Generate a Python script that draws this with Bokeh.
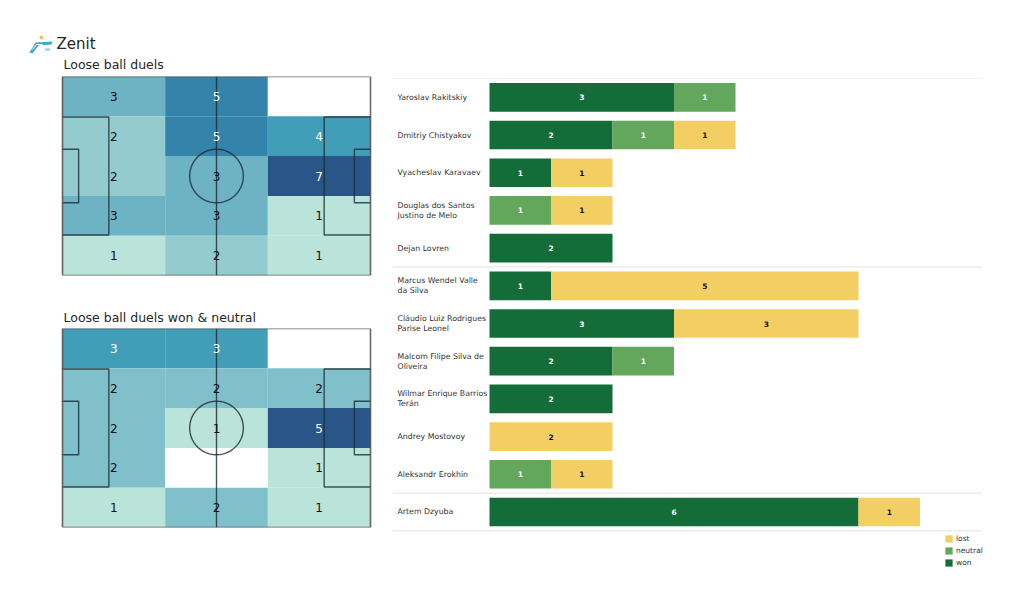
from bokeh.plotting import figure
from bokeh.layouts import column, row
from bokeh.core.properties import value
from bokeh.models import ColumnDataSource, FactorRange, Range1d, Legend, LegendItem
from bokeh.embed import file_html
from bokeh.resources import INLINE
import numpy as np

# ---- data ----
team = "Zenit"
title_all = "Loose ball duels"
title_won = "Loose ball duels won & neutral"
grid_all = [[3, 5, 0], [2, 5, 4], [2, 3, 7], [3, 3, 1], [1, 2, 1]]
grid_won = [[3, 3, 0], [2, 2, 2], [2, 1, 5], [2, 0, 1], [1, 2, 1]]
players = ["Yaroslav Rakitskiy", "Dmitriy Chistyakov", "Vyacheslav Karavaev",
           "Douglas dos Santos\nJustino de Melo", "Dejan Lovren",
           "Marcus Wendel Valle\nda Silva", "Cláudio Luiz Rodrigues\nParise Leonel",
           "Malcom Filipe Silva de\nOliveira", "Wilmar Enrique Barrios\nTerán",
           "Andrey Mostovoy", "Aleksandr Erokhin", "Artem Dzyuba"]
won = [3, 2, 1, 0, 2, 1, 3, 2, 2, 0, 0, 6]
neutral = [1, 1, 0, 1, 0, 0, 0, 1, 0, 0, 1, 0]
lost = [0, 1, 1, 1, 0, 5, 3, 0, 0, 2, 1, 1]
group_ends = [0, 5, 11, 12]

# ---- styles ----
FONT = value("DejaVu Sans")
INK = "#262626"
colors_all = {0: "#ffffff", 1: "#bae3d9", 2: "#93cbce", 3: "#6db3c3", 4: "#429db9", 5: "#3383ab", 7: "#2a5587"}
colors_won = {0: "#ffffff", 1: "#bae3d9", 2: "#7fc0cb", 3: "#429db9", 5: "#2a5587"}
STATUS = {"won": "#146c38", "neutral": "#62a75b", "lost": "#f2ce63"}
PW, PH = 105.0, 68.0
BOX = 15.8
K = PW / 308.0  # pitch metres per pixel


def bare(fig):
    fig.axis.visible = False
    fig.grid.visible = False
    fig.outline_line_color = None
    fig.background_fill_color = None
    fig.border_fill_color = None
    return fig


def caption(y0, y1, items, logo=False):
    f = bare(figure(width=385, height=y1 - y0, x_range=Range1d(0, 385), y_range=Range1d(y1, y0),
                    toolbar_location=None, output_backend="svg", min_border=0,
                    min_border_left=0, min_border_right=0, min_border_top=0, min_border_bottom=0))
    for x, y, txt, size in items:
        f.text([x], [y], text=[txt], text_font=FONT, text_font_size=size, text_color=INK,
               text_baseline="middle", text_align="left")
    if logo:
        f.patch([29, 35, 52, 51, 38, 32], [52, 42, 41, 44, 45, 53], fill_color="#3fa7cb", line_color=None)
        f.line([32, 36, 42, 37, 47], [49, 44, 44, 48, 45], line_color="#ffffff", line_width=1)
        f.patch([44, 50, 49, 45], [48, 48, 50, 50], fill_color="#8fcbe0", line_color=None)
        f.scatter([41], [37], size=4, fill_color="#e9c46a", line_color=None)
    return f


def pitch(values, palette, top, bottom):
    rows, cols = len(values), len(values[0])
    f = bare(figure(width=385, height=top + 199 + bottom, x_range=Range1d(-62 * K, PW + 15 * K),
                    y_range=Range1d(0, PH), toolbar_location=None, output_backend="svg",
                    min_border_left=0, min_border_right=0, min_border_top=top, min_border_bottom=bottom))
    cw, ch = PW / cols, PH / rows
    xs, ys, fills, inks, txt = [], [], [], [], []
    hi = max(map(max, values))
    for r, line in enumerate(values):
        for c, v in enumerate(line):
            xs.append((c + .5) * cw)
            ys.append(PH - (r + .5) * ch)
            fills.append(palette[v])
            inks.append("#ffffff" if v >= 0.55 * hi else "#111111")
            txt.append(str(v) if v else "")
    src = ColumnDataSource(dict(x=xs, y=ys, fill=fills, ink=inks, txt=txt))
    f.rect("x", "y", width=cw, height=ch, fill_color="fill", line_color=None, source=src)
    kw = dict(line_color="#1c2b33", line_alpha=0.8, line_width=1.4)
    f.multi_line(
        [[0, BOX, BOX, 0], [0, 5.5, 5.5, 0], [PW, PW - BOX, PW - BOX, PW], [PW, PW - 5.5, PW - 5.5, PW],
         [PW / 2, PW / 2]],
        [[13.84, 13.84, 54.16, 54.16], [24.84, 24.84, 43.16, 43.16], [13.84, 13.84, 54.16, 54.16],
         [24.84, 24.84, 43.16, 43.16], [0, PH]], **kw)
    f.line([0, 0, PW, PW, 0], [0, PH, PH, 0, 0], line_color="#4d4d4d", line_alpha=0.85, line_width=1.6)
    t = np.linspace(0, 2 * np.pi, 90)
    f.line(PW / 2 + 9.15 * np.cos(t), PH / 2 + 9.15 * np.sin(t), **kw)
    f.text("x", "y", text="txt", text_color="ink", text_font=FONT, text_font_size="12px",
           text_align="center", text_baseline="middle", source=src)
    return f


head1 = caption(0, 71, [(56, 43, team, "15px"), (63, 64, title_all, "12.5px")], logo=True)
pitch1 = pitch(grid_all, colors_all, 5, 14)
head2 = caption(289, 324, [(63, 317, title_won, "12.5px")])
pitch2 = pitch(grid_won, colors_won, 4, 12)

# ---- stacked bars ----
factors = [" "] + list(reversed(players))
x_left, x_right = -97 / 61.5, 8.0
bars = bare(figure(width=631, height=568, x_range=Range1d(x_left, 500 / 61.5),
                   y_range=FactorRange(factors=factors, factor_padding=0, range_padding=0),
                   toolbar_location=None, output_backend="svg",
                   min_border_left=7, min_border_right=27, min_border_top=78, min_border_bottom=0))
src = ColumnDataSource(dict(player=players, won=won, neutral=neutral, lost=lost))
stack = bars.hbar_stack(["won", "neutral", "lost"], y="player", height=0.76,
                        color=[STATUS["won"], STATUS["neutral"], STATUS["lost"]], line_color=None, source=src)
n = len(players)
for end in group_ends:
    bars.segment([x_left], [n + 1 - end], [x_right], [n + 1 - end], line_color="#e3e3e3", line_width=1)
bars.text(x=[0] * n, y=players, text=players, x_offset=-92, text_font=FONT, text_font_size="7.8px",
          text_color="#333333", text_align="left", text_baseline="middle", text_line_height=1.1)

w, ne, lo = np.array(won), np.array(neutral), np.array(lost)
for vals, start, ink in ((w, 0 * w, "#ffffff"), (ne, w, "#ffffff"), (lo, w + ne, "#111111")):
    keep = vals > 0
    bars.text(x=(start + vals / 2)[keep].tolist(), y=[p for p, k in zip(players, keep) if k],
              text=[str(v) for v in vals[keep]], text_font=FONT, text_font_size="7.5px", text_font_style="bold",
              text_color=ink, text_align="center", text_baseline="middle")

legend = Legend(items=[LegendItem(label="lost", renderers=[stack[2]]),
                       LegendItem(label="neutral", renderers=[stack[1]]),
                       LegendItem(label="won", renderers=[stack[0]])],
                location=(552, 1), orientation="vertical", border_line_color=None,
                background_fill_alpha=0, label_text_font="DejaVu Sans", label_text_font_size="7.5px",
                label_text_color="#333333", glyph_width=9, glyph_height=9, label_height=9,
                spacing=3, padding=0, margin=0, label_standoff=3)
bars.add_layout(legend)

page = row(column(head1, pitch1, head2, pitch2, spacing=0), bars, spacing=0)
open("out.html", "w").write(file_html(page, INLINE))
